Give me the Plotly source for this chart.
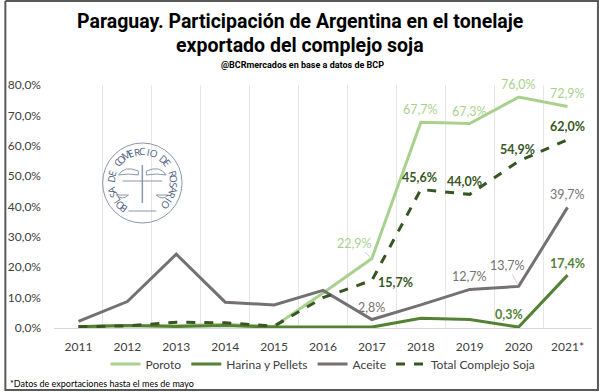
import numpy as np
import plotly.graph_objects as go

years = ["2011", "2012", "2013", "2014", "2015", "2016", "2017", "2018", "2019", "2020", "2021*"]
poroto = [0.5, 0.8, 0.7, 1.2, 0.5, 11.5, 22.9, 67.7, 67.3, 76.0, 72.9]
harina = [0.4, 0.8, 0.5, 0.8, 0.3, 0.3, 0.3, 3.2, 2.8, 0.3, 17.4]
aceite = [2.2, 8.7, 24.3, 8.5, 7.6, 12.4, 2.8, 7.6, 12.7, 13.7, 39.7]
total = [0.4, 0.7, 1.9, 1.7, 0.6, 10.0, 15.7, 45.6, 44.0, 54.9, 62.0]
y_ticks = [0, 10, 20, 30, 40, 50, 60, 70, 80]

C_POR = "#a9d18e"
C_HAR = "#548235"
C_ACE = "#767171"
C_TOT = "#375623"

W, H = 600, 392
L, R, T, B = 50, 8, 85, 64
PW, PH = W - L - R, H - T - B


def px(xp):
    return (xp - L) / PW


def py(yp):
    return (H - B - yp) / PH


def fmt(v):
    return f"{v:.1f}".replace(".", ",") + "%"


xi = list(range(len(years)))

fig = go.Figure()
fig.add_trace(go.Scatter(x=xi, y=poroto, name="Poroto", mode="lines",
                         line=dict(color=C_POR, width=3)))
fig.add_trace(go.Scatter(x=xi, y=harina, name="Harina y Pellets", mode="lines",
                         line=dict(color=C_HAR, width=3)))
fig.add_trace(go.Scatter(x=xi, y=aceite, name="Aceite", mode="lines",
                         line=dict(color=C_ACE, width=3)))
fig.add_trace(go.Scatter(x=xi, y=total, name="Total Complejo Soja", mode="lines",
                         line=dict(color=C_TOT, width=3, dash="dash")))

annotations = []
LBL = "Lato"


def lab(series, idx, color, bold, xs=0, ys=13, arrow=None):
    txt = fmt(series[idx])
    if bold:
        txt = "<b>" + txt + "</b>"
    a = dict(x=idx, y=series[idx], xref="x", yref="y", text=txt,
             font=dict(family=LBL, size=12.5, color=color))
    if arrow:
        a.update(showarrow=True, arrowhead=0, arrowwidth=0.7, arrowcolor="#bfbfbf",
                 ax=arrow[0], ay=arrow[1], standoff=2)
    else:
        a.update(showarrow=False, xshift=xs, yshift=ys)
    annotations.append(a)


# Poroto
lab(poroto, 6, C_POR, False, arrow=(-17, -15))
lab(poroto, 7, C_POR, False, 0, 13)
lab(poroto, 8, C_POR, False, 0, 12)
lab(poroto, 9, C_POR, False, 0, 13)
lab(poroto, 10, C_POR, False, 0, 13)
# Total
lab(total, 6, C_TOT, True, 24, -2)
lab(total, 7, C_TOT, True, -1, 12)
lab(total, 8, C_TOT, True, -5, 13)
lab(total, 9, C_TOT, True, -1, 12)
lab(total, 10, C_TOT, True, 0, 13)
# Aceite
lab(aceite, 6, C_ACE, False, 0, 12)
lab(aceite, 8, C_ACE, False, 0, 13)
lab(aceite, 9, C_ACE, False, arrow=(-11, -21))
lab(aceite, 10, C_ACE, False, 0, 13)
# Harina
lab(harina, 9, C_HAR, True, -10, 13)
lab(harina, 10, C_HAR, True, 0, 12)

# titles
TF = "Roboto"
annotations.append(dict(xref="paper", yref="paper", x=px(298), y=py(21),
                        text="<b>Paraguay. Participación de Argentina en el tonelaje</b>",
                        showarrow=False, xanchor="center", yanchor="middle",
                        font=dict(family=TF, size=19.5, color="#000000")))
annotations.append(dict(xref="paper", yref="paper", x=px(298), y=py(46),
                        text="<b>exportado del complejo soja</b>",
                        showarrow=False, xanchor="center", yanchor="middle",
                        font=dict(family=TF, size=19.5, color="#000000")))
annotations.append(dict(xref="paper", yref="paper", x=px(300), y=py(65),
                        text="<b>@BCRmercados en base a datos de BCP</b>",
                        showarrow=False, xanchor="center", yanchor="middle",
                        font=dict(family=TF, size=9, color="#000000")))
annotations.append(dict(xref="paper", yref="paper", x=px(4), y=py(383),
                        text="*Datos de exportaciones hasta el mes de mayo",
                        showarrow=False, xanchor="left", yanchor="middle",
                        font=dict(family=LBL, size=9, color="#000000")))

# watermark logo
LOGO = "#50607f"
LOGO_L = "#8a97ad"
cx, cy, rr = 139, 183, 40
logo_txt = "BOLSA DE COMERCIO DE ROSARIO"
ang = np.linspace(234, -44, len(logo_txt))
for ch, a in zip(logo_txt, ang):
    if ch == " ":
        continue
    t = np.deg2rad(a)
    xp = cx + 32 * np.cos(t)
    yp = cy - 32 * np.sin(t)
    annotations.append(dict(xref="paper", yref="paper", x=px(xp), y=py(yp), text=ch,
                            showarrow=False, xanchor="center", yanchor="middle",
                            textangle=90 - a,
                            font=dict(family="Open Sans", size=10, color=LOGO)))

BORDER = dict(color="#595959", width=2)
shapes = [
    dict(type="circle", xref="paper", yref="paper",
         x0=px(cx - rr), x1=px(cx + rr), y0=py(cy + rr), y1=py(cy - rr),
         line=dict(color=LOGO_L, width=1)),
    dict(type="line", xref="paper", yref="paper",
         x0=px(cx - 14), x1=px(cx + 14), y0=py(cy + 28), y1=py(cy + 28),
         line=dict(color=LOGO_L, width=1)),
    dict(type="line", xref="paper", yref="paper",
         x0=px(cx - 20), x1=px(cx + 20), y0=py(cy - 2), y1=py(cy - 2),
         line=dict(color=LOGO_L, width=1)),
    dict(type="line", xref="paper", yref="paper",
         x0=px(cx), x1=px(cx), y0=py(cy + 20), y1=py(cy - 18),
         line=dict(color=LOGO_L, width=1.5)),
    dict(type="path", xref="paper", yref="paper",
         path=f"M {px(cx-26)} {py(cy+12)} Q {px(cx-20)} {py(cy+18)} {px(cx-14)} {py(cy+12)} Z",
         line=dict(color=LOGO_L, width=1)),
    dict(type="path", xref="paper", yref="paper",
         path=f"M {px(cx+14)} {py(cy+12)} Q {px(cx+20)} {py(cy+18)} {px(cx+26)} {py(cy+12)} Z",
         line=dict(color=LOGO_L, width=1)),
    dict(type="path", xref="paper", yref="paper",
         path=f"M {px(cx-4)} {py(cy-12)} Q {px(cx-18)} {py(cy-18)} {px(cx-24)} {py(cy-8)} Q {px(cx-14)} {py(cy-10)} {px(cx-4)} {py(cy-8)} Z",
         line=dict(color=LOGO_L, width=1)),
    dict(type="path", xref="paper", yref="paper",
         path=f"M {px(cx+4)} {py(cy-12)} Q {px(cx+18)} {py(cy-18)} {px(cx+24)} {py(cy-8)} Q {px(cx+14)} {py(cy-10)} {px(cx+4)} {py(cy-8)} Z",
         line=dict(color=LOGO_L, width=1)),
    # border, four sides
    dict(type="line", xref="paper", yref="paper", x0=px(1), x1=px(1), y0=py(1), y1=py(391),
         line=BORDER),
    dict(type="line", xref="paper", yref="paper", x0=px(1), x1=px(599), y0=py(1), y1=py(1),
         line=BORDER),
    dict(type="line", xref="paper", yref="paper", x0=px(598), x1=px(598), y0=py(1), y1=py(391),
         line=BORDER),
    dict(type="line", xref="paper", yref="paper", x0=px(1), x1=px(599), y0=py(390), y1=py(390),
         line=BORDER),
]

fig.update_layout(
    width=W, height=H,
    margin=dict(l=L, r=R, t=T, b=B, pad=0),
    paper_bgcolor="#ffffff", plot_bgcolor="#ffffff",
    showlegend=True,
    legend=dict(orientation="h", x=0.5, xanchor="center", y=py(364), yanchor="middle",
                font=dict(family=LBL, size=12, color="#404040"),
                itemwidth=30, tracegroupgap=0, bgcolor="rgba(0,0,0,0)"),
    xaxis=dict(range=[-0.5, len(years) - 0.5], tickmode="array", tickvals=xi, ticktext=years,
               showgrid=False, zeroline=False, showline=True, linecolor="#d9d9d9", linewidth=1,
               ticks="", ticklabelstandoff=8,
               tickfont=dict(family=LBL, size=12, color="#404040"),
               minor=dict(tickmode="array", tickvals=[i - 0.5 for i in range(len(years) + 1)],
                          showgrid=True, gridcolor="#e6e6e6", gridwidth=1, ticks="")),
    yaxis=dict(range=[0, 80], tickmode="array", tickvals=y_ticks,
               ticktext=[fmt(v) for v in y_ticks], showgrid=False, zeroline=False,
               showline=False, ticklabelstandoff=12,
               tickfont=dict(family=LBL, size=12, color="#404040")),
    annotations=annotations,
    shapes=shapes,
)

fig.write_html("out.html", config={"displayModeBar": False},
               post_script="document.body.style.margin='0px';document.body.style.overflow='hidden';")
